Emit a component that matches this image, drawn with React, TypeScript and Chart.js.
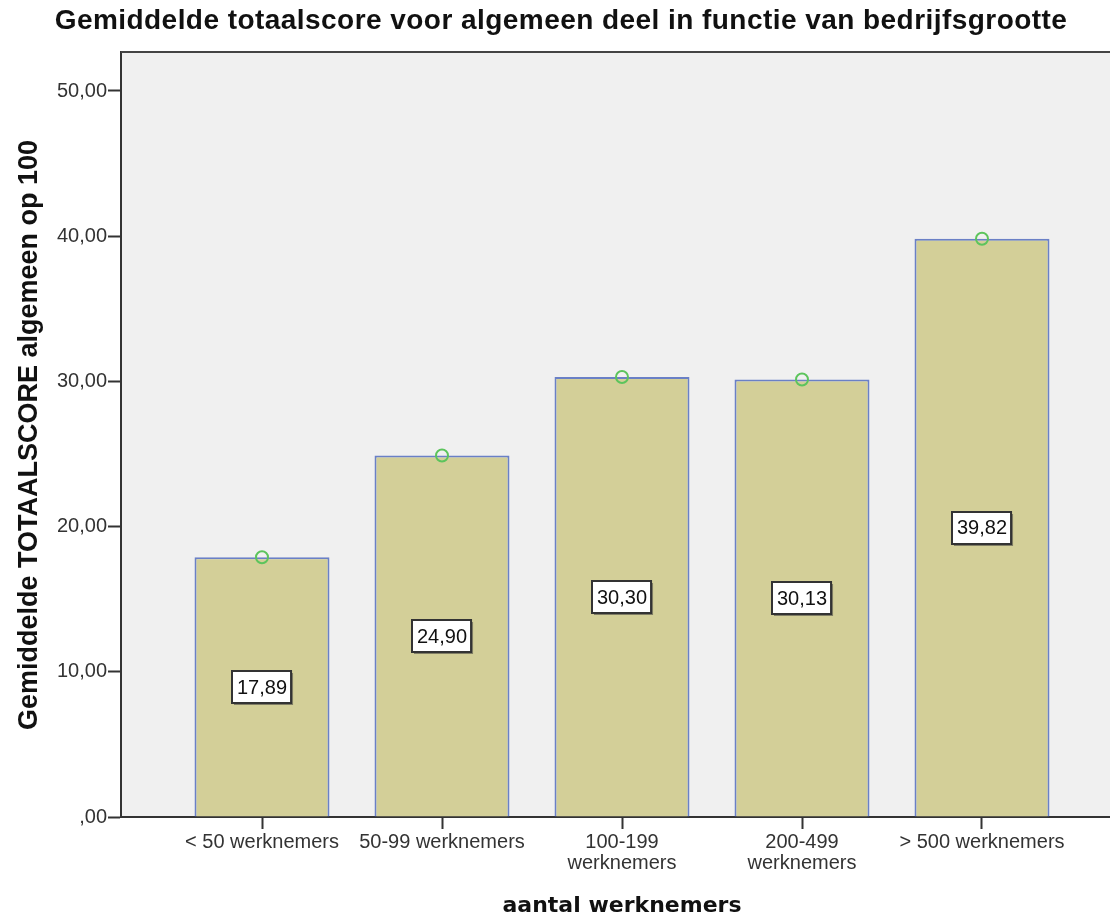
import React, { useEffect, useRef } from "react";
import { Chart, registerables } from "chart.js";

Chart.register(...registerables);

// Company size classes and mean total score per class
const categories: (string | string[])[] = [
  "< 50 werknemers",
  "50-99 werknemers",
  ["100-199", "werknemers"],
  ["200-499", "werknemers"],
  "> 500 werknemers",
];
const meanScores = [17.89, 24.9, 30.3, 30.13, 39.82];
const yTickValues = [0, 10, 20, 30, 40, 50];

const chartTitle = "Gemiddelde totaalscore voor algemeen deel in functie van bedrijfsgrootte";
const xTitle = "aantal werknemers";
const yTitle = "Gemiddelde TOTAALSCORE algemeen op 100";

const FONT = "'Liberation Sans', Arial, sans-serif";
const WIDE_BOLD = "'DejaVu Sans', Verdana, sans-serif";
const fmt = (v: number) => (v === 0 ? ",00" : v.toFixed(2).replace(".", ","));

const decorPlugin = {
  id: "decor",
  beforeDraw(chart: any) {
    const { ctx, chartArea: a } = chart;
    ctx.save();
    ctx.fillStyle = "#f0f0f0";
    ctx.fillRect(a.left, a.top, a.right - a.left, a.bottom - a.top);
    ctx.restore();
  },
  afterDatasetsDraw(chart: any) {
    const { ctx } = chart;
    const meta = chart.getDatasetMeta(0);
    const yScale = chart.scales.y;
    ctx.save();
    ctx.font = `20px ${FONT}`;
    ctx.textAlign = "center";
    ctx.textBaseline = "middle";
    meta.data.forEach((bar: any, i: number) => {
      const v = meanScores[i];
      const text = fmt(v);
      const cx = bar.x;
      const cy = yScale.getPixelForValue(v / 2);
      const w = ctx.measureText(text).width + 9;
      const h = 32;
      const x0 = Math.round(cx - w / 2);
      const y0 = Math.round(cy - h / 2);
      ctx.fillStyle = "rgba(60,60,60,0.55)";
      ctx.fillRect(x0 + 2, y0 + 2, w, h);
      ctx.fillStyle = "#ffffff";
      ctx.fillRect(x0, y0, w, h);
      ctx.strokeStyle = "#333333";
      ctx.lineWidth = 2;
      ctx.strokeRect(x0, y0, w, h);
      ctx.fillStyle = "#111111";
      ctx.fillText(text, cx, cy + 1);
    });
    ctx.restore();
  },
  afterDraw(chart: any) {
    const { ctx, chartArea: a } = chart;
    ctx.save();
    // frame top edge
    ctx.strokeStyle = "#444444";
    ctx.lineWidth = 2;
    ctx.beginPath();
    ctx.moveTo(a.left, a.top);
    ctx.lineTo(a.right, a.top);
    ctx.stroke();

    ctx.fillStyle = "#111111";
    ctx.textAlign = "center";
    ctx.textBaseline = "alphabetic";
    ctx.font = `bold 28px ${FONT}`;
    (ctx as any).letterSpacing = "0.45px";
    ctx.fillText(chartTitle, 561, 29);
    (ctx as any).letterSpacing = "0px";

    ctx.font = `bold 22px ${WIDE_BOLD}`;
    ctx.fillText(xTitle, 622, 912);

    ctx.font = `bold 27px ${FONT}`;
    ctx.translate(37, 435);
    ctx.rotate(-Math.PI / 2);
    ctx.fillText(yTitle, 0, 0);
    ctx.restore();
  },
};

export default function App() {
  const ref = useRef<HTMLCanvasElement>(null);

  useEffect(() => {
    if (!ref.current) return;
    const chart = new Chart(ref.current, {
      type: "bar",
      data: {
        datasets: [
          {
            type: "bar",
            data: meanScores.map((v, i) => ({ x: i + 1, y: v })),
            backgroundColor: "#d3cf98",
            borderColor: "#6a80c6",
            borderWidth: 2,
            borderSkipped: "bottom",
            categoryPercentage: 1,
            barPercentage: 0.75,
            order: 2,
          },
          {
            type: "line",
            data: meanScores.map((v, i) => ({ x: i + 1, y: v })),
            showLine: false,
            pointStyle: "circle",
            pointRadius: 6,
            pointBorderWidth: 2,
            pointBorderColor: "#5cc45c",
            pointBackgroundColor: "rgba(0,0,0,0)",
            order: 1,
          } as any,
        ],
      },
      options: {
        responsive: false,
        animation: false,
        layout: { autoPadding: false, padding: { top: 52, left: 0, right: 0, bottom: 0 } },
        plugins: {
          legend: { display: false },
          title: { display: false },
          tooltip: { enabled: false },
        },
        scales: {
          x: {
            type: "linear",
            offset: false,
            min: 1 - 141 / 180,
            max: 5 + 128 / 180,
            afterBuildTicks: (scale: any) => {
              scale.ticks = categories.map((_, i) => ({ value: i + 1 }));
            },
            afterFit: (scale: any) => {
              scale.height = 100;
              scale.paddingLeft = 0;
              scale.paddingRight = 0;
            },
            ticks: {
              autoSkip: false,
              maxRotation: 0,
              minRotation: 0,
              padding: 3,
              color: "#333333",
              font: { family: FONT, size: 20, lineHeight: 1.05 },
              callback: (value: any) => categories[Math.round(Number(value)) - 1],
            },
            grid: {
              offset: false,
              drawOnChartArea: false,
              drawTicks: true,
              tickLength: 12,
              tickColor: "#333333",
              tickWidth: 2,
            },
            border: { display: true, color: "#333333", width: 2 },
          },
          y: {
            type: "linear",
            min: 0,
            max: 765 / 14.52,
            afterBuildTicks: (scale: any) => {
              scale.ticks = yTickValues.map((v) => ({ value: v }));
            },
            afterFit: (scale: any) => {
              scale.width = 121;
              scale.paddingTop = 0;
              scale.paddingBottom = 0;
            },
            ticks: {
              padding: 1,
              color: "#333333",
              font: { family: FONT, size: 20 },
              callback: (value: any) => fmt(Number(value)),
            },
            grid: {
              drawOnChartArea: false,
              drawTicks: true,
              tickLength: 13,
              tickColor: "#333333",
              tickWidth: 2,
            },
            border: { display: true, color: "#333333", width: 2 },
          },
        },
      },
      plugins: [decorPlugin],
    });
    return () => chart.destroy();
  }, []);

  return (
    <div style={{ position: "absolute", left: 0, top: 0, width: 1110, height: 917, background: "#ffffff" }}>
      <canvas ref={ref} width={1110} height={917} style={{ display: "block" }} />
    </div>
  );
}
